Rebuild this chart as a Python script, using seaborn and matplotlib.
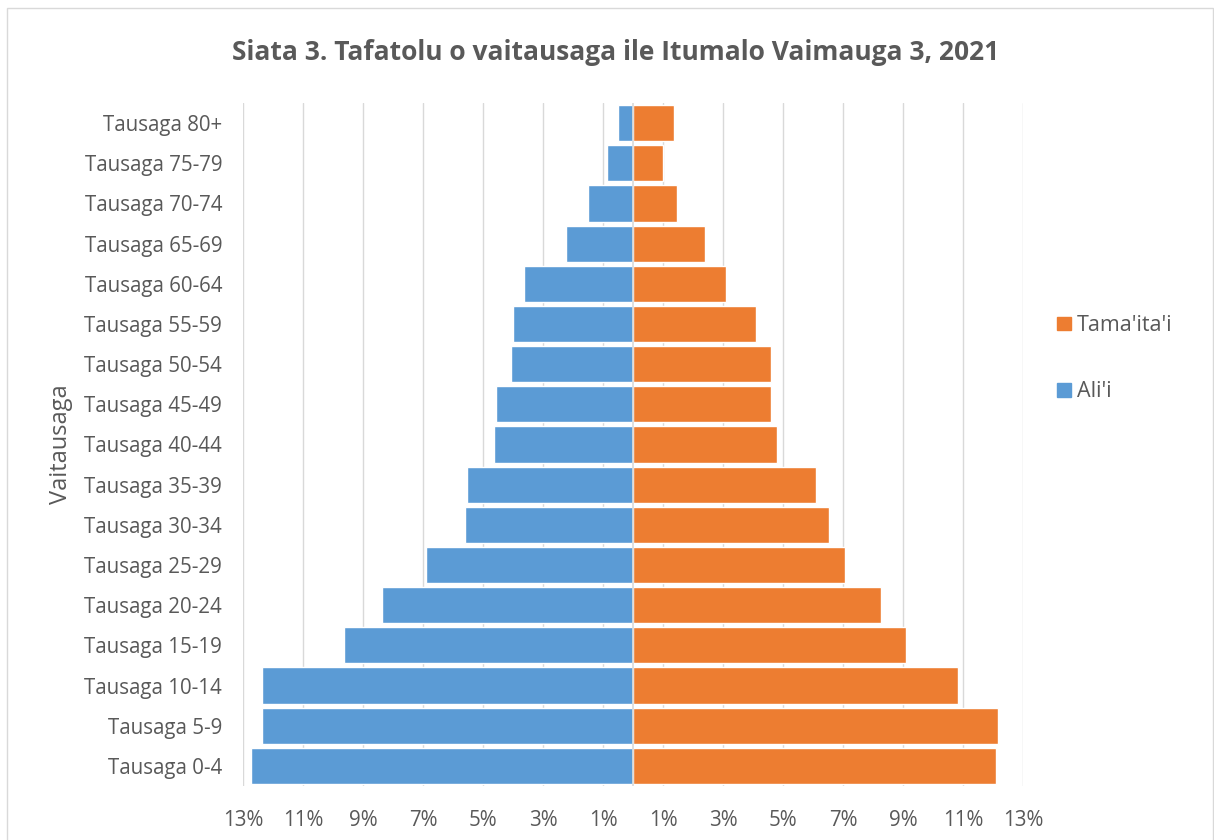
import pandas as pd
import matplotlib.pyplot as plt
import seaborn as sns
from matplotlib.patches import Patch, Rectangle

# Datos del gráfico (porcentajes por grupo de edad)
grupos = ['Tausaga 80+', 'Tausaga 75-79', 'Tausaga 70-74', 'Tausaga 65-69',
          'Tausaga 60-64', 'Tausaga 55-59', 'Tausaga 50-54', 'Tausaga 45-49',
          'Tausaga 40-44', 'Tausaga 35-39', 'Tausaga 30-34', 'Tausaga 25-29',
          'Tausaga 20-24', 'Tausaga 15-19', 'Tausaga 10-14', 'Tausaga 5-9',
          'Tausaga 0-4']
alii = [0.49, 0.86, 1.51, 2.22, 3.63, 4.01, 4.08, 4.58, 4.63, 5.52, 5.60,
        6.90, 8.37, 9.64, 12.38, 12.37, 12.72]
tamaitai = [1.36, 1.00, 1.46, 2.40, 3.10, 4.11, 4.61, 4.61, 4.81, 6.11, 6.53,
            7.07, 8.25, 9.10, 10.83, 12.17, 12.09]
ticks = [-13, -11, -9, -7, -5, -3, -1, 1, 3, 5, 7, 9, 11, 13]

azul = '#5B9BD5'
naranja = '#ED7D31'
gris_texto = '#595959'

df = pd.concat([
    pd.DataFrame({'grupo': grupos, 'valor': [-v for v in alii], 'sexo': "Ali'i"}),
    pd.DataFrame({'grupo': grupos, 'valor': tamaitai, 'sexo': "Tama'ita'i"}),
])

sns.set_style('white')
plt.rcParams['font.family'] = ['Open Sans', 'DejaVu Sans']

fig = plt.figure(figsize=(12.14, 8.4), dpi=100)
ax = fig.add_axes([0.2002, 0.0643, 0.6425, 0.8131])

sns.barplot(data=df, x='valor', y='grupo', hue='sexo', order=grupos,
            hue_order=["Ali'i", "Tama'ita'i"], palette=[azul, naranja],
            saturation=1, dodge=False, width=0.9, edgecolor='white',
            linewidth=1, legend=False, ax=ax)

ax.set_xlim(-13, 13)
ax.set_xticks(ticks)
ax.set_xticklabels([f'{abs(t)}%' for t in ticks])
ax.xaxis.grid(True, color='#D9D9D9', linewidth=1)
ax.set_axisbelow(True)
ax.axvline(0, color='#D9D9D9', linewidth=1.2, zorder=3)
for s in ax.spines.values():
    s.set_visible(False)
ax.tick_params(axis='y', length=0, labelsize=14.8, colors=gris_texto, pad=15)
ax.tick_params(axis='x', length=0, labelsize=14.8, colors=gris_texto, pad=17)
ax.set_xlabel('')
ax.set_ylabel('Vaitausaga', fontsize=17, color=gris_texto, labelpad=8)

fig.text(0.507, 0.938, 'Siata 3. Tafatolu o vaitausaga ile Itumalo Vaimauga 3, 2021',
         ha='center', va='center', fontsize=19, fontweight='bold', color=gris_texto)

handles = [Patch(color=naranja, label="Tama'ita'i"), Patch(color=azul, label="Ali'i")]
fig.legend(handles=handles, loc='center left', bbox_to_anchor=(0.855, 0.573),
           frameon=False, fontsize=15.5, labelspacing=2.1, handlelength=0.62,
           handleheight=0.62, handletextpad=0.3, labelcolor=gris_texto)

# Borde exterior del gráfico
fig.patches.append(Rectangle((0.006, -0.01), 0.993, 1.0, transform=fig.transFigure,
                             fill=False, edgecolor='#D9D9D9', linewidth=1))

plt.savefig('out.png', dpi=100)
plt.close()
